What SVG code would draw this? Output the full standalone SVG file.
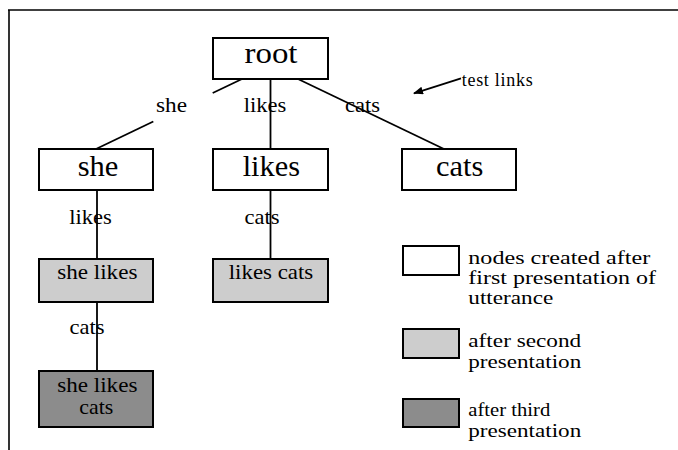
<svg xmlns="http://www.w3.org/2000/svg" width="678" height="450" viewBox="0 0 678 450">
  <style>
    text { font-family: 'Liberation Serif', 'Times New Roman', serif; fill: #000; }
    .box { stroke: #000; stroke-width: 2; }
    .first { fill: #fff; }
    .second { fill: #cdcdcd; }
    .third { fill: #8c8c8c; }
    .edge { stroke: #000; stroke-width: 1.8; fill: none; }
    .big { font-size: 29px; text-anchor: middle; }
    .mid { font-size: 21px; text-anchor: middle; }
    .lbl { font-size: 21.5px; text-anchor: middle; }
    .leg { font-size: 18px; }
  </style>
  <defs>
    <marker id="arrowhead" markerWidth="10" markerHeight="8" refX="9" refY="4" orient="auto" markerUnits="userSpaceOnUse">
      <path d="M0,0 L10,4 L0,8 Z" fill="#000"/>
    </marker>
  </defs>

  <rect width="678" height="450" fill="#fff"/>

  <!-- frame (top and left rules only) -->
  <g id="frame" stroke="#000" stroke-width="1.6" fill="none">
    <line x1="8" y1="10" x2="678" y2="10"/>
    <line x1="9" y1="10" x2="9" y2="450"/>
  </g>

  <!-- edge labels -->
  <g id="edge-labels">
    <text class="lbl" x="171.5" y="112" textLength="31" lengthAdjust="spacingAndGlyphs">she</text>
    <text class="lbl" x="265" y="112" textLength="42.5" lengthAdjust="spacingAndGlyphs">likes</text>
    <text class="lbl" x="362.5" y="112" textLength="35" lengthAdjust="spacingAndGlyphs">cats</text>
    <text class="lbl" x="90.5" y="223.5" textLength="42.5" lengthAdjust="spacingAndGlyphs">likes</text>
    <text class="lbl" x="262" y="223.5" textLength="35" lengthAdjust="spacingAndGlyphs">cats</text>
    <text class="lbl" x="87" y="333.5" textLength="35" lengthAdjust="spacingAndGlyphs">cats</text>
  </g>

  <!-- connectors -->
  <g id="connectors">
    <line class="edge" x1="242" y1="79" x2="212.7" y2="93"/>
    <line class="edge" x1="153.3" y1="121.5" x2="96" y2="149"/>
    <line class="edge" x1="270.5" y1="79" x2="270.5" y2="149"/>
    <line class="edge" x1="298" y1="79" x2="444" y2="149"/>
    <line class="edge" x1="97" y1="190" x2="97" y2="259"/>
    <line class="edge" x1="270.5" y1="190" x2="270.5" y2="259"/>
    <line class="edge" x1="97" y1="302" x2="97" y2="371"/>
    <line class="edge" x1="461" y1="78.3" x2="414" y2="93.3" marker-end="url(#arrowhead)"/>
  </g>

  <!-- tree nodes -->
  <g id="node-root">
    <rect class="box first" x="213" y="38" width="115" height="41"/>
    <text class="big" x="271" y="63" textLength="53" lengthAdjust="spacingAndGlyphs">root</text>
  </g>
  <g id="node-she">
    <rect class="box first" x="39" y="149" width="114" height="41"/>
    <text class="big" x="98" y="176" textLength="40.7" lengthAdjust="spacingAndGlyphs">she</text>
  </g>
  <g id="node-likes">
    <rect class="box first" x="213" y="149" width="115" height="41"/>
    <text class="big" x="271.3" y="176" textLength="57.3" lengthAdjust="spacingAndGlyphs">likes</text>
  </g>
  <g id="node-cats">
    <rect class="box first" x="402" y="149" width="114" height="41"/>
    <text class="big" x="459.7" y="176" textLength="47.3" lengthAdjust="spacingAndGlyphs">cats</text>
  </g>
  <g id="node-she-likes">
    <rect class="box second" x="39" y="259" width="114" height="43"/>
    <text class="mid" transform="translate(97.3,279.3) scale(1.1,1)">she likes</text>
  </g>
  <g id="node-likes-cats">
    <rect class="box second" x="213" y="259" width="115" height="43"/>
    <text class="mid" transform="translate(271,279.3) scale(1.09,1)">likes cats</text>
  </g>
  <g id="node-she-likes-cats">
    <rect class="box third" x="39" y="371" width="114" height="56"/>
    <text class="mid" transform="translate(97.3,391.7) scale(1.1,1)">she likes</text>
    <text class="mid" transform="translate(96.3,414) scale(1.04,1)">cats</text>
  </g>

  <!-- annotation -->
  <g id="note-test-links">
    <text x="461.7" y="85.7" font-size="18" textLength="71" lengthAdjust="spacing">test links</text>
  </g>

  <!-- legend -->
  <g id="legend-first">
    <rect class="box first" x="403" y="246" width="56" height="29"/>
    <text class="leg" transform="translate(468.3,264.3) scale(1.339,1)">nodes created after</text>
    <text class="leg" transform="translate(468.3,284.3) scale(1.333,1)">first presentation of</text>
    <text class="leg" transform="translate(468.3,304) scale(1.288,1)">utterance</text>
  </g>
  <g id="legend-second">
    <rect class="box second" x="403" y="329" width="56" height="29"/>
    <text class="leg" transform="translate(468.3,346.7) scale(1.292,1)">after second</text>
    <text class="leg" transform="translate(468.3,367.7) scale(1.284,1)">presentation</text>
  </g>
  <g id="legend-third">
    <rect class="box third" x="403" y="399" width="56" height="28"/>
    <text class="leg" transform="translate(468.3,416) scale(1.147,1)">after third</text>
    <text class="leg" transform="translate(468.3,436.7) scale(1.284,1)">presentation</text>
  </g>
</svg>
